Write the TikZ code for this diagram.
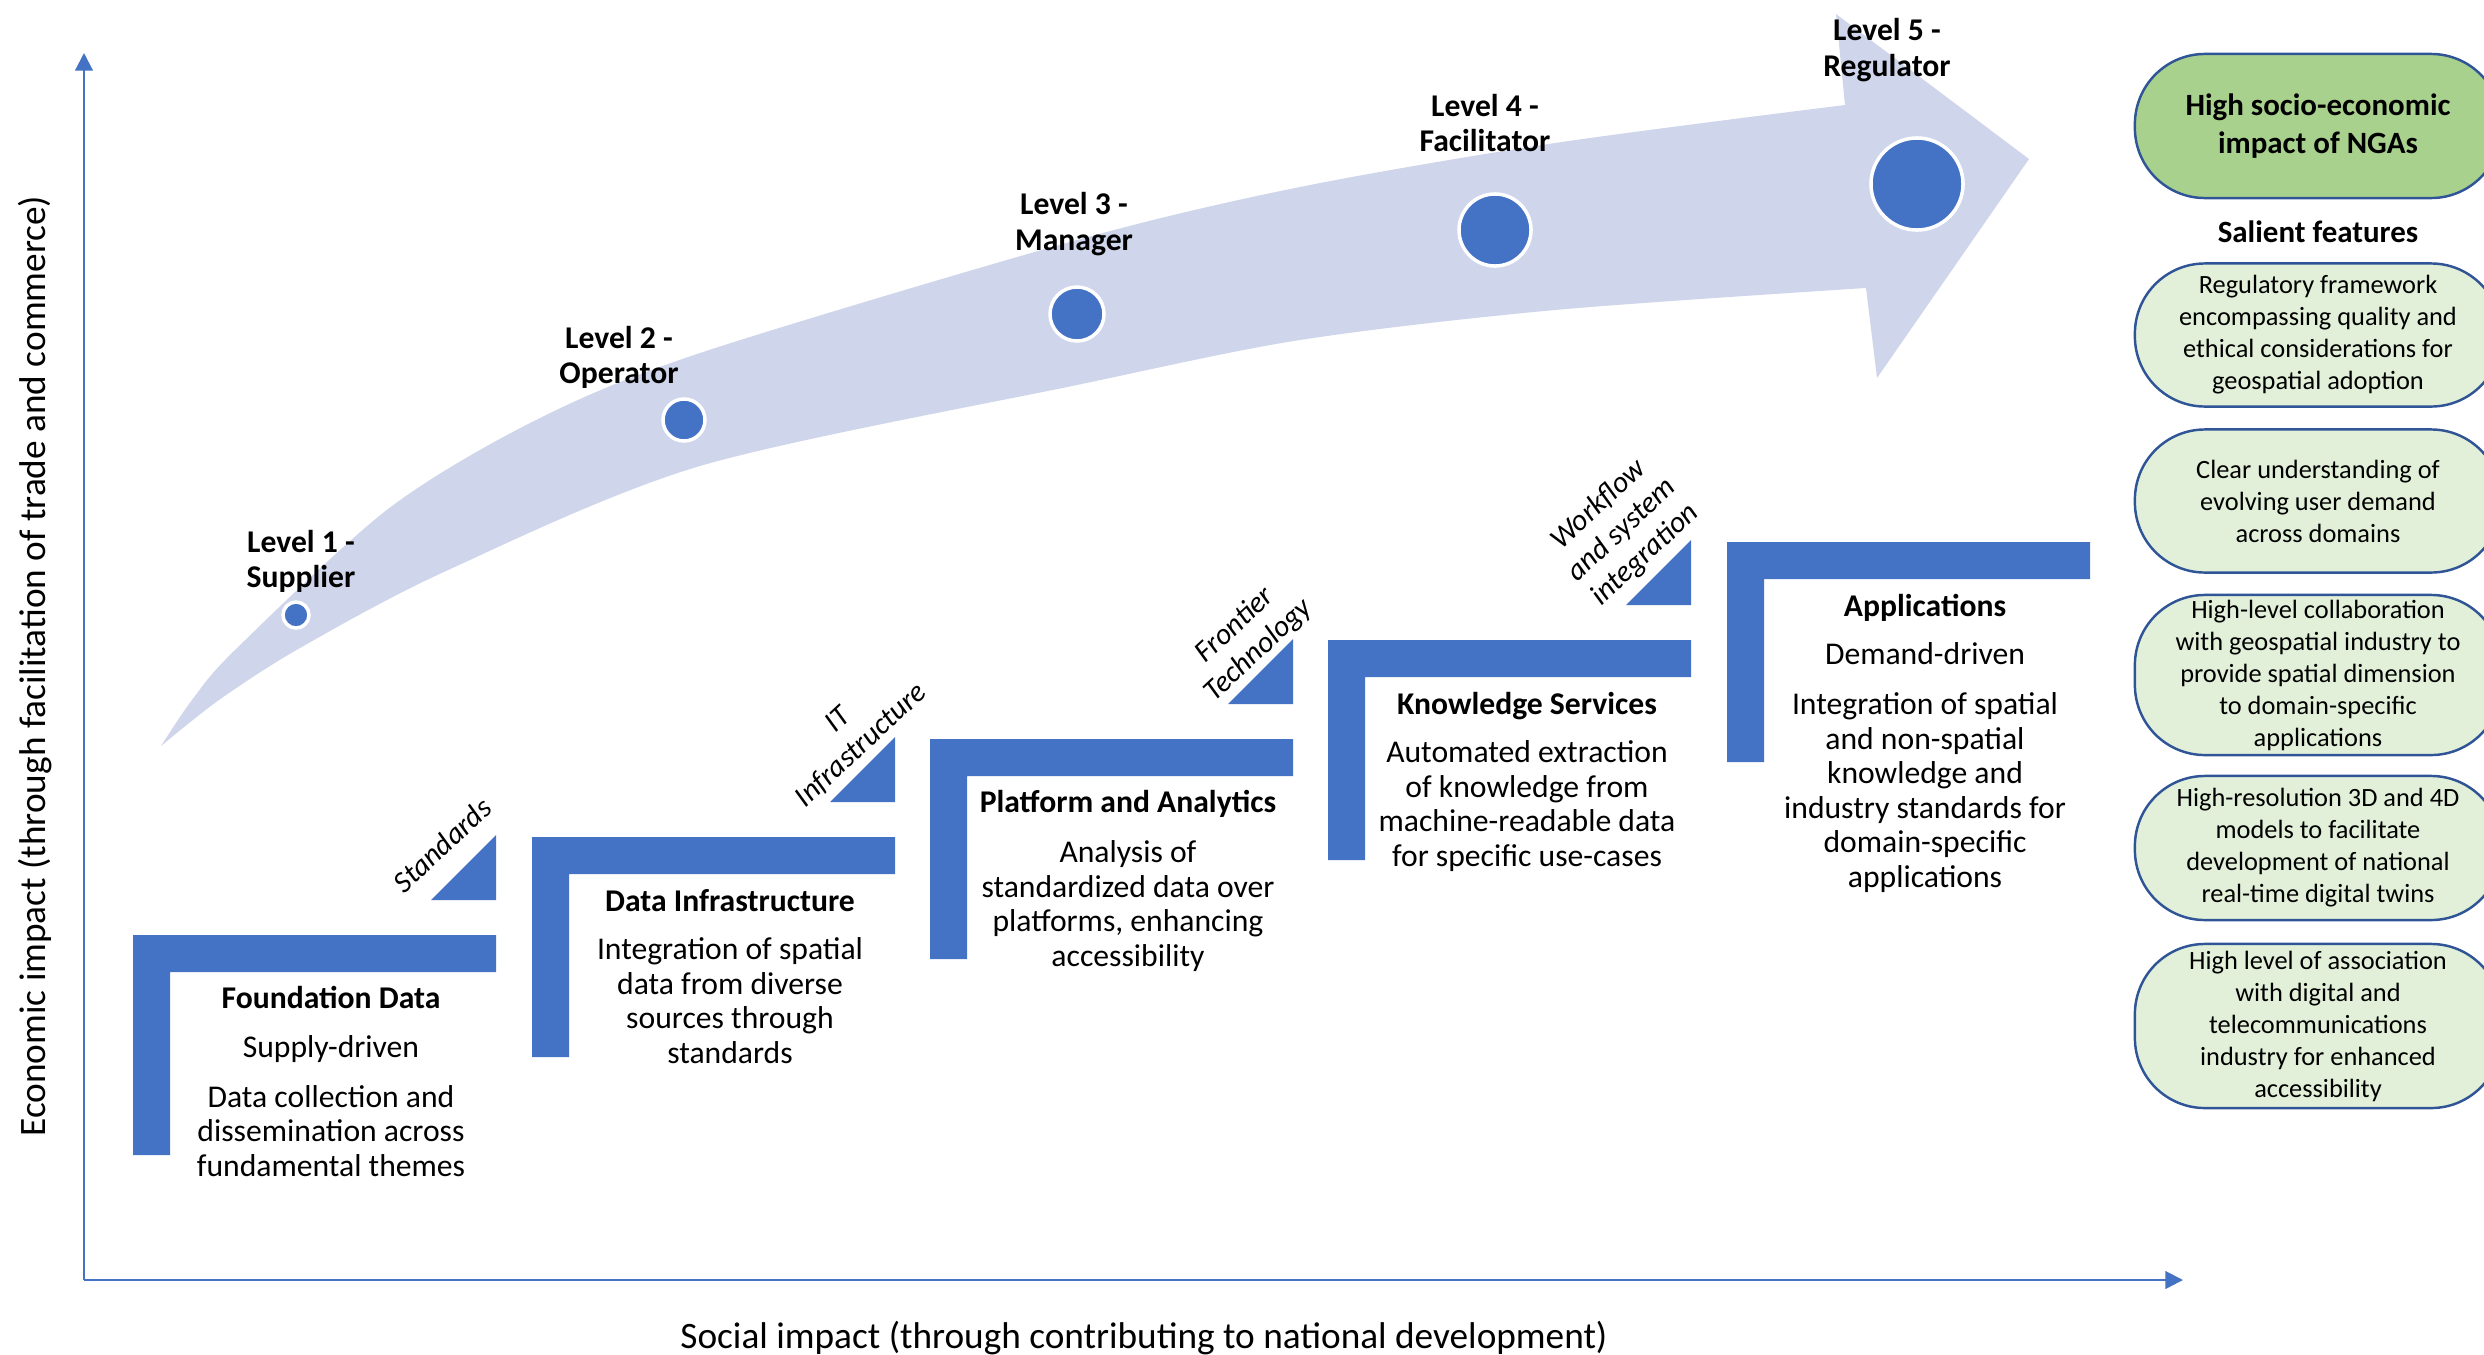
\documentclass[tikz,border=0pt]{standalone}
\usepackage{fontspec}
\setmainfont{Carlito}
\usetikzlibrary{arrows.meta}
\definecolor{stepblue}{HTML}{4472C4}
\definecolor{arrowfill}{HTML}{CFD5EA}
\definecolor{pilledge}{HTML}{2F5597}
\definecolor{impactgreen}{HTML}{A9D18E}
\definecolor{featgreen}{HTML}{E2F0D9}
\begin{document}
\begin{tikzpicture}[x=0.01cm, y=-0.01cm,
  axis/.style={stepblue, line width=0.6pt, -{Triangle[length=5pt,width=5pt]}},
  axislabel/.style={font=\fontsize{10.6}{12}\selectfont, inner sep=0pt},
  steptext/.style={font=\fontsize{9}{9.8}\selectfont, align=center, inner sep=0pt, anchor=base},
  lvllabel/.style={font=\fontsize{9}{10}\selectfont\bfseries, align=center, inner sep=0pt},
  slant/.style={font=\fontsize{8.5}{9.7}\selectfont\itshape, align=center, inner sep=0pt, rotate=43},
  dot/.style={circle, fill=stepblue, draw=white, line width=1pt, inner sep=0pt},
  pill/.style={rectangle, rounded corners=0.7cm, draw=pilledge, line width=0.7pt, minimum width=3.66cm, align=center, inner sep=0pt, font=\fontsize{7.5}{9.1}\selectfont},
]
\clip (0,0) rectangle (2484,1354);

% Maturity arrow
\fill[arrowfill] plot[smooth] coordinates {(161,746) (192,700) (235,650) (388,509) (536,420) (700,353) (1077,240) (1300,187) (1555,143) (1845,105)}
  -- (1836,14) -- (2029,159) -- (1877,378) -- (1866,288)
  -- plot[smooth] coordinates {(1866,288) (1555,310) (1300,340) (1077,385) (700,466) (446,571) (300,648) (219,700) (161,746)} -- cycle;

% Levels
\node[dot, minimum size=0.26cm] (dot1) at (296,615) {};
\node[dot, minimum size=0.42cm] (dot2) at (684,420) {};
\node[dot, minimum size=0.54cm] (dot3) at (1077,314) {};
\node[dot, minimum size=0.72cm] (dot4) at (1495,230) {};
\node[dot, minimum size=0.92cm] (dot5) at (1917,184) {};
\node[lvllabel] (lvl1) at (301,561) {Level 1 -\\Supplier};
\node[lvllabel] (lvl2) at (619,357) {Level 2 -\\Operator};
\node[lvllabel] (lvl3) at (1074,224) {Level 3 -\\Manager};
\node[lvllabel] (lvl4) at (1485,123) {Level 4 -\\Facilitator};
\node[lvllabel] (lvl5) at (1887,50) {Level 5 -\\Regulator};

% Steps
\fill[stepblue] (133,935) -- (496,935) -- (496,972) -- (170,972) -- (170,1155) -- (133,1155) -- cycle;
\fill[stepblue] (532,837) -- (895,837) -- (895,874) -- (569,874) -- (569,1057) -- (532,1057) -- cycle;
\fill[stepblue] (930,739) -- (1293,739) -- (1293,776) -- (967,776) -- (967,959) -- (930,959) -- cycle;
\fill[stepblue] (1328,640) -- (1691,640) -- (1691,677) -- (1365,677) -- (1365,860) -- (1328,860) -- cycle;
\fill[stepblue] (1727,542) -- (2090,542) -- (2090,579) -- (1764,579) -- (1764,762) -- (1727,762) -- cycle;

% Enablers
\fill[stepblue] (431,900) -- (496,900) -- (496,835) -- cycle;
\fill[stepblue] (830,802) -- (895,802) -- (895,737) -- cycle;
\fill[stepblue] (1228,704) -- (1293,704) -- (1293,639) -- cycle;
\fill[stepblue] (1626,605) -- (1691,605) -- (1691,540) -- cycle;
\node[slant] (std) at (442,845) {Standards};
\node[slant] (itinf) at (850,733) {IT\\Infrastructure};
\node[slant] (front) at (1247,638) {Frontier\\Technology};
\node[slant] (wflow) at (1622,530) {Workflow\\and system\\integration};

% Step texts (placed at baseline of last line)
\node[steptext] (found) at (331,1176) {\textbf{Foundation Data}\\[3.9pt] Supply-driven\\[4.4pt] Data collection and\\ dissemination across\\ fundamental themes};
\node[steptext] (datainf) at (730,1063) {\textbf{Data Infrastructure}\\[3.9pt] Integration of spatial\\ data from diverse\\ sources through\\ standards};
\node[steptext] (platf) at (1128,966) {\textbf{Platform and Analytics}\\[4.4pt] Analysis of\\ standardized data over\\ platforms, enhancing\\ accessibility};
\node[steptext] (knowl) at (1527,866) {\textbf{Knowledge Services}\\[3.9pt] Automated extraction\\ of knowledge from\\ machine-readable data\\ for specific use-cases};
\node[steptext] (apps) at (1925,887) {\textbf{Applications}\\[3.9pt] Demand-driven\\[4.4pt] Integration of spatial\\ and non-spatial\\ knowledge and\\ industry standards for\\ domain-specific\\ applications};

% Axes
\coordinate (origin) at (84,1280);
\coordinate (ytop) at (84,53);
\coordinate (xend) at (2183,1280);
\draw[axis] (origin) -- (ytop);
\draw[axis] (origin) -- (xend);
\node[axislabel, rotate=90] (ylab) at (35,666) {Economic impact (through facilitation of trade and commerce)};
\node[axislabel] (xlab) at (1144,1338) {Social impact (through contributing to national development)};

% Salient features
\node[pill, fill=impactgreen, minimum height=1.44cm, font=\fontsize{8.8}{10.8}\selectfont\bfseries] (impact) at (2318,126) {High socio-economic\\impact of NGAs};
\node[font=\fontsize{8.8}{10.8}\selectfont\bfseries, inner sep=0pt] (salient) at (2318,232) {Salient features};
\node[pill, fill=featgreen, minimum height=1.43cm] (feat1) at (2318,335) {Regulatory framework\\encompassing quality and\\ethical considerations for\\geospatial adoption};
\node[pill, fill=featgreen, minimum height=1.43cm] (feat2) at (2318,501) {Clear understanding of\\evolving user demand\\across domains};
\node[pill, fill=featgreen, minimum height=1.60cm] (feat3) at (2318,675) {High-level collaboration\\with geospatial industry to\\provide spatial dimension\\to domain-specific\\applications};
\node[pill, fill=featgreen, minimum height=1.44cm] (feat4) at (2318,848) {High-resolution 3D and 4D\\models to facilitate\\development of national\\real-time digital twins};
\node[pill, fill=featgreen, minimum height=1.64cm] (feat5) at (2318,1026) {High level of association\\with digital and\\telecommunications\\industry for enhanced\\accessibility};
\end{tikzpicture}
\end{document}
